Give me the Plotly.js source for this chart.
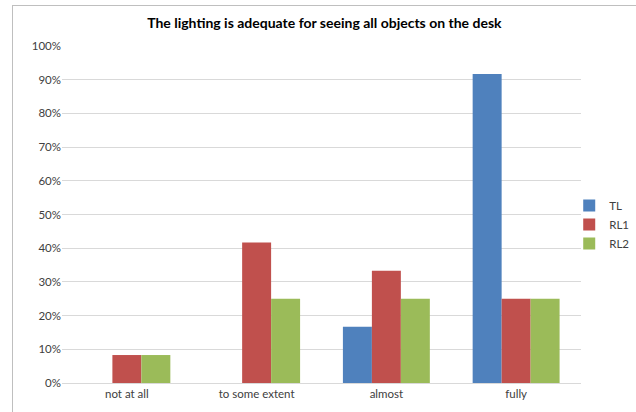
<!DOCTYPE html>
<html>
<head>
<meta charset="utf-8">
<script src="https://cdn.plot.ly/plotly-3.0.1.min.js"></script>
<style>
html,body{margin:0;padding:0;background:#fff;}
#wrap{position:relative;width:636px;height:412px;}
#chart{width:636px;height:412px;}
#frame{position:absolute;left:12px;top:5px;width:640px;height:420px;border:1px solid #bfbfbf;pointer-events:none;}
</style>
</head>
<body>
<div id="wrap"><div id="chart"></div><div id="frame"></div></div>
<script>
const categories = ["not at all", "to some extent", "almost", "fully"];
const seriesNames = ["TL", "RL1", "RL2"];
const TL  = [0, 0, 0.167, 0.917];
const RL1 = [0.083, 0.417, 0.333, 0.25];
const RL2 = [0.083, 0.25, 0.25, 0.25];
const colors = ["#4f81bd", "#c0504d", "#9bbb59"];
const yTicks = [0,0.1,0.2,0.3,0.4,0.5,0.6,0.7,0.8,0.9,1.0];
const yTickLabels = ["0%","10%","20%","30%","40%","50%","60%","70%","80%","90%","100%"];

const vals = [TL, RL1, RL2];
const data = vals.map((v,i)=>({
  type:'bar', x:categories, y:v, name:seriesNames[i],
  marker:{color:colors[i]}
}));
const layout = {
  width:636, height:412,
  margin:{l:62, r:55, t:46, b:29, autoexpand:false},
  paper_bgcolor:'rgba(0,0,0,0)', plot_bgcolor:'#fff',
  font:{family:'Lato, "Open Sans", sans-serif', size:11.5, color:'#404040'},
  title:{text:'<b>The lighting is adequate for seeing all objects on the desk</b>',
    font:{family:'Lato, sans-serif', size:14, color:'#000'}, x:0.51, xanchor:'center', y:0.945, yanchor:'middle'},
  barmode:'group', bargap:0.33, bargroupgap:0,
  xaxis:{showgrid:false, showline:true, linecolor:'#d9d9d9', linewidth:1, ticks:'', tickfont:{size:11.5}},
  yaxis:{range:[0,1], tickvals:yTicks, ticktext:yTickLabels, showgrid:true, gridcolor:'#d9d9d9', gridwidth:1,
    zeroline:false, showline:false, ticks:'', ticklen:0, tickfont:{size:11.5}},
  legend:{xref:'container', yref:'container', x:0.895, xanchor:'left', y:0.455, yanchor:'middle',
    font:{size:11.5}, tracegroupgap:4, itemwidth:30},
  showlegend:true
};
Plotly.newPlot('chart', data, layout, {displayModeBar:false, staticPlot:true});
</script>
</body>
</html>
